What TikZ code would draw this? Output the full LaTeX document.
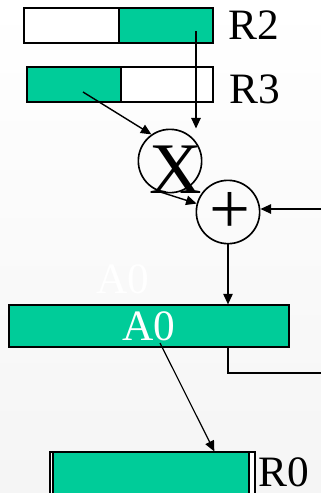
\documentclass[tikz,border=0pt]{standalone}
\usepackage{fontspec}
\setmainfont{Liberation Serif}
\usetikzlibrary{arrows.meta, positioning, fit, calc}
\definecolor{regteal}{HTML}{00CC99}

\begin{document}
\begin{tikzpicture}[x=0.03cm, y=-0.03cm, >={Triangle[length=9pt,width=8pt]},
  cell/.style={draw, inner sep=0pt, line width=1pt},
  op/.style={draw, circle, line width=1.4pt, minimum size=1.9cm, inner sep=0pt},
  lbl/.style={font=\fontsize{37}{40}\selectfont, inner sep=0pt},
  sym/.style={font=\fontsize{62}{66}\selectfont, inner sep=0pt},
  wire/.style={line width=1.2pt}]
  \shade[top color=white, bottom color=black!4] (0,0) rectangle (321,493);
  \useasboundingbox (0,0) rectangle (321,493);

  % source registers
  \node[cell, fill=white, fit={(24,8) (119,43)}] (r2a) {};
  \node[cell, fill=regteal, fit={(119,8) (213,43)}] (r2b) {};
  \node[lbl, right=0.45cm of r2b] (r2lbl) {R2};
  \node[cell, fill=regteal, fit={(27,67) (121,102)}] (r3a) {};
  \node[cell, fill=white, fit={(121,67) (213,102)}] (r3b) {};
  \node[lbl, right=0.48cm of r3b, yshift=-0.15cm] (r3lbl) {R3};

  % multiply and add
  \node[op] (mul) at (170,161) {};
  \node[sym] (multxt) at (176,170) {X};
  \node[op] (add) at (228,212) {};
  \node[sym] (addtxt) at (230,213) {+};

  \coordinate (r2src) at (196,31);
  \coordinate (r3src) at (83,92);
  \draw[wire, ->] (r2src) -- (r2src |- mul.north);
  \draw[wire, ->] (r3src) -- (mul.125);
  \draw[wire, ->] (mul.250) -- (add.165);
  \coordinate (accin) at (321,209);
  \draw[wire, ->] (accin) -- (accin -| add.east);

  % accumulator
  \node[lbl, text=white] (a0ghost) at (123,279) {A0};
  \node[cell, fill=regteal, fit={(9,305) (289,347)}] (a0) {};
  \node[lbl, text=white] (a0txt) at (a0.center) {A0};
  \draw[wire, ->] (add.south) -- (add.south |- a0.north);
  \coordinate (accout) at (321,373);
  \draw[wire] (add.south |- a0.south) |- (accout);

  % result register
  \node[cell, fill=white, fit={(50,452) (255,495)}] (r0) {};
  \node[cell, fill=regteal, fit={(53,452) (249,495)}] (r0in) {};
  \node[lbl, right=0.09cm of r0, yshift=0.05cm] (r0lbl) {R0};
  \coordinate (a0src) at (160,343);
  \draw[->, line width=1pt] (a0src) -- ($(r0.north west)!0.8!(r0.north east)$);
\end{tikzpicture}
\end{document}
